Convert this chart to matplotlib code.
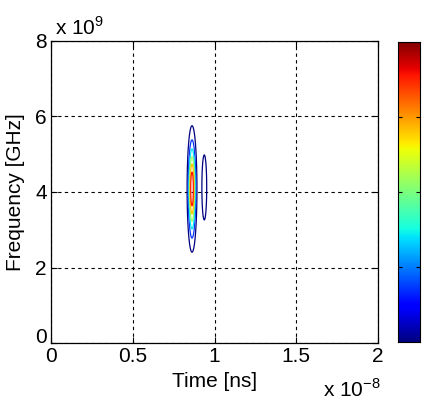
import numpy as np
import matplotlib
matplotlib.use("Agg")
import matplotlib.pyplot as plt
from matplotlib.transforms import ScaledTranslation

plt.rcParams['font.family'] = ['Liberation Sans', 'DejaVu Sans']
plt.rcParams['mathtext.fontset'] = 'custom'
plt.rcParams['mathtext.rm'] = 'Liberation Sans'

# blob parameters of the time-frequency energy
blob_t = [0.862e-8, 0.937e-8]
blob_f = [4.08e9, 4.12e9]
blob_amp = [1.0, 0.2]
blob_sig_t = [0.014e-8, 0.0125e-8]
blob_sig_f = [0.78e9, 0.73e9]

levels = [0.1, 0.25, 0.4, 0.55, 0.7, 0.85]

x_ticks = [0, 0.5e-8, 1.0e-8, 1.5e-8, 2.0e-8]
x_labels = ["0", "0.5", "1", "1.5", "2"]
y_ticks = [0, 2e9, 4e9, 6e9, 8e9]
y_labels = ["0", "2", "4", "6", "8"]

t = np.linspace(0, 2e-8, 4001)
f = np.linspace(0, 8e9, 801)
T, F = np.meshgrid(t, f)
Z = np.zeros_like(T)
for t0, f0, a, st, sf in zip(blob_t, blob_f, blob_amp, blob_sig_t, blob_sig_f):
    Z += a * np.exp(-(T - t0) ** 2 / (2 * st ** 2) - (F - f0) ** 2 / (2 * sf ** 2))

fig = plt.figure(figsize=(4.22, 4.05), dpi=100)
ax = fig.add_axes([0.121, 0.153, 0.775, 0.746])
ax.contour(T, F, Z, levels=levels, cmap='jet', vmin=0.1, vmax=0.95, linewidths=0.9)

ax.set_xlim(0, 2e-8)
ax.set_ylim(0, 8e9)
ax.set_xticks(x_ticks)
ax.set_xticklabels(x_labels)
ax.set_yticks(y_ticks)
ax.set_yticklabels(y_labels)
ax.tick_params(direction='in', length=4, top=True, right=True, labelsize=15, pad=3)
ax.grid(True, color='black', linestyle=(0, (3, 3)), linewidth=0.8)
for s in ax.spines.values():
    s.set_linewidth(0.9)

# MATLAB lifts the y "0" a bit so it does not sit on the x "0"
lbl0 = ax.get_yticklabels()[0]
lbl0.set_transform(lbl0.get_transform() + ScaledTranslation(0, 0.08, fig.dpi_scale_trans))

ax.set_xlabel("Time [ns]", fontsize=15, labelpad=4)
ax.set_ylabel("Frequency [GHz]", fontsize=15, labelpad=7)

fig.text(0.13, 0.905, r"x 10$^{9}$", fontsize=15, ha='left', va='bottom')
fig.text(0.765, 0.01, r"x 10$^{-8}$", fontsize=15, ha='left', va='bottom')

# colorbar
cax = fig.add_axes([0.943, 0.155, 0.052, 0.742])
grad = np.linspace(0, 1, 256).reshape(-1, 1)
cax.imshow(grad, cmap='jet', aspect='auto', origin='lower', extent=[0, 1, 0, 1])
cax.set_xticks([])
cax.set_yticks([0.25, 0.5, 0.75])
cax.set_yticklabels([])
cax.tick_params(direction='in', length=3, left=True, right=True)

fig.savefig("out.png", dpi=100)
